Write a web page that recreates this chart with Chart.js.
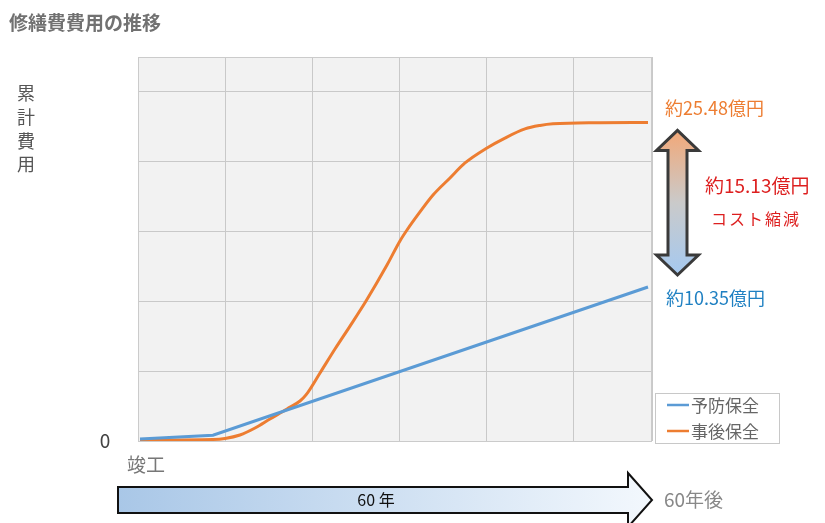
<!DOCTYPE html>
<html><head><meta charset="utf-8">
<script src="https://cdn.jsdelivr.net/npm/chart.js@4.4.1/dist/chart.umd.min.js"></script>
<style>html,body{margin:0;padding:0;background:#fff;}#wrap{width:825px;height:523px;position:relative;}</style>
</head><body><div id="wrap"><canvas id="c" width="825" height="523"></canvas></div>
<script>
const TITLE = '修繕費費用の推移';
const Y_TITLE = ['累', '計', '費', '用'];
const SERIES_NAMES = ['予防保全', '事後保全'];
const SERIES_COLORS = ['#5b9bd5', '#ed7d31'];
const YEARS_PREVENTIVE = [0.23, 8.62, 58.62];
const COST_PREVENTIVE = [0.14, 0.41, 11.0];
const YEARS_CORRECTIVE = [0.23, 8.62, 10.0, 11.72, 13.45, 15.17, 17.13, 18.62, 19.31, 20.92, 22.64, 24.37, 26.21, 28.62, 30.11, 30.92, 32.41, 33.91, 35.86, 37.59, 40.11, 42.18, 44.48, 46.21, 47.7, 53.1, 58.62];
const COST_CORRECTIVE = [0.07, 0.11, 0.18, 0.43, 0.93, 1.57, 2.29, 2.86, 3.29, 4.86, 6.57, 8.21, 10.0, 12.57, 14.29, 15.07, 16.36, 17.57, 18.79, 19.86, 20.93, 21.64, 22.29, 22.54, 22.66, 22.74, 22.76];
const X_RANGE = [0, 59.08];
const Y_RANGE = [0, 27.43];
const X_STEP = 10;
const Y_STEP = 5;
const Y_ZERO_LABEL = '0';
const LABEL_CORRECTIVE_END = '約25.48億円';
const LABEL_PREVENTIVE_END = '約10.35億円';
const LABEL_SAVING = '約15.13億円';
const LABEL_SAVING_SUB = 'コスト縮減';
const LABEL_START = '竣工';
const LABEL_SPAN = '60 年';
const LABEL_END = '60年後';

const FONT = '"Noto Sans CJK JP", "Noto Sans", sans-serif';

function toPoints(xs, ys) { return xs.map((x, i) => ({ x: x, y: ys[i] })); }

const decor = {
  id: 'decor',
  beforeDraw(chart) {
    const { ctx, chartArea: a } = chart;
    ctx.save();
    ctx.fillStyle = '#f2f2f2';
    ctx.fillRect(a.left, a.top, a.right - a.left, a.bottom - a.top);
    ctx.restore();
  },
  beforeDatasetsDraw(chart) {
    const { ctx, chartArea: a } = chart;
    ctx.save();
    ctx.strokeStyle = '#cbcbcb';
    ctx.lineWidth = 1;
    ctx.strokeRect(a.left + 0.5, a.top + 0.5, a.right - a.left - 1, a.bottom - a.top);
    ctx.restore();
  },
  afterDraw(chart) {
    const { ctx, chartArea: a, scales } = chart;
    const ys = scales.y;
    ctx.save();
    // title
    ctx.textBaseline = 'middle';
    ctx.textAlign = 'left';
    ctx.fillStyle = '#717171';
    ctx.font = 'bold 19px ' + FONT;
    ctx.fillText(TITLE, 9, 23);
    // y title (vertical stacked)
    ctx.fillStyle = '#555';
    ctx.font = '18px ' + FONT;
    ctx.textAlign = 'center';
    const yt = [93, 117, 141, 164];
    Y_TITLE.forEach((ch, i) => ctx.fillText(ch, 26, yt[i]));
    // zero label
    ctx.fillStyle = '#444';
    ctx.font = '19px ' + FONT;
    ctx.fillText(Y_ZERO_LABEL, 105, ys.getPixelForValue(0));
    // start label
    ctx.fillStyle = '#777';
    ctx.font = '19px ' + FONT;
    ctx.textAlign = 'left';
    ctx.fillText(LABEL_START, 127, 465);

    // horizontal arrow
    const L = 118, bt = 487, bb = 513, hb = 628, ht = 473, hbt = 527, tip = a.right, cy = 500;
    const g = ctx.createLinearGradient(L, 0, tip, 0);
    g.addColorStop(0, '#a9c7e7');
    g.addColorStop(1, '#f3f8fd');
    ctx.beginPath();
    ctx.moveTo(L, bt); ctx.lineTo(hb, bt); ctx.lineTo(hb, ht); ctx.lineTo(tip, cy);
    ctx.lineTo(hb, hbt); ctx.lineTo(hb, bb); ctx.lineTo(L, bb); ctx.closePath();
    ctx.fillStyle = g; ctx.fill();
    ctx.strokeStyle = '#111'; ctx.lineWidth = 2; ctx.lineJoin = 'miter'; ctx.stroke();
    ctx.fillStyle = '#111';
    ctx.font = '16px ' + FONT;
    ctx.textAlign = 'center';
    ctx.fillText(LABEL_SPAN, 376, cy);
    ctx.fillStyle = '#888';
    ctx.font = '19px ' + FONT;
    ctx.textAlign = 'left';
    ctx.fillText(LABEL_END, 664, cy);

    // end values
    const yOr = ys.getPixelForValue(COST_CORRECTIVE[COST_CORRECTIVE.length - 1]);
    const yBl = ys.getPixelForValue(COST_PREVENTIVE[COST_PREVENTIVE.length - 1]);
    ctx.font = '18px ' + FONT;
    ctx.fillStyle = '#ed7d31';
    ctx.fillText(LABEL_CORRECTIVE_END, 665, yOr - 14);
    ctx.fillStyle = '#1f80c2';
    ctx.fillText(LABEL_PREVENTIVE_END, 666, yBl + 11);

    // vertical double arrow
    const cx = 677.5, yT = yOr + 8, yB = yBl - 12, hh = 20, hw = 21, bw = 9.5;
    const vg = ctx.createLinearGradient(0, yT, 0, yB);
    vg.addColorStop(0, '#f2a878');
    vg.addColorStop(0.5, '#cacaca');
    vg.addColorStop(1, '#a5c9f0');
    ctx.beginPath();
    ctx.moveTo(cx, yT);
    ctx.lineTo(cx + hw, yT + hh);
    ctx.lineTo(cx + bw, yT + hh);
    ctx.lineTo(cx + bw, yB - hh);
    ctx.lineTo(cx + hw, yB - hh);
    ctx.lineTo(cx, yB);
    ctx.lineTo(cx - hw, yB - hh);
    ctx.lineTo(cx - bw, yB - hh);
    ctx.lineTo(cx - bw, yT + hh);
    ctx.lineTo(cx - hw, yT + hh);
    ctx.closePath();
    ctx.fillStyle = vg; ctx.fill();
    ctx.strokeStyle = '#3a3a3a'; ctx.lineWidth = 3; ctx.stroke();

    ctx.fillStyle = '#dd1f1f';
    ctx.font = '19px ' + FONT;
    ctx.fillText(LABEL_SAVING, 705, 186);
    ctx.font = '16px ' + FONT;
    if ('letterSpacing' in ctx) ctx.letterSpacing = '2px';
    ctx.fillText(LABEL_SAVING_SUB, 711, 219);
    if ('letterSpacing' in ctx) ctx.letterSpacing = '0px';

    // legend
    ctx.fillStyle = '#fff';
    ctx.fillRect(655.5, 393.5, 124, 50);
    ctx.strokeStyle = '#c8c8c8'; ctx.lineWidth = 1;
    ctx.strokeRect(655.5, 393.5, 124, 50);
    const ly = [405, 431];
    ctx.font = '17px ' + FONT;
    SERIES_NAMES.forEach((n, i) => {
      ctx.strokeStyle = SERIES_COLORS[i]; ctx.lineWidth = 2.5;
      ctx.beginPath(); ctx.moveTo(667, ly[i]); ctx.lineTo(689, ly[i]); ctx.stroke();
      ctx.fillStyle = '#666';
      ctx.fillText(n, 691, ly[i] + 1);
    });
    ctx.restore();
  }
};

new Chart(document.getElementById('c'), {
  type: 'line',
  data: {
    datasets: [
      { label: SERIES_NAMES[0], data: toPoints(YEARS_PREVENTIVE, COST_PREVENTIVE), borderColor: SERIES_COLORS[0], borderWidth: 3, pointRadius: 0, tension: 0, fill: false },
      { label: SERIES_NAMES[1], data: toPoints(YEARS_CORRECTIVE, COST_CORRECTIVE), borderColor: SERIES_COLORS[1], borderWidth: 3, pointRadius: 0, cubicInterpolationMode: 'monotone', fill: false, borderJoinStyle: 'round' }
    ]
  },
  options: {
    responsive: false,
    animation: false,
    layout: { padding: { left: 138, right: 173, top: 57, bottom: 82 } },
    plugins: { legend: { display: false }, tooltip: { enabled: false }, title: { display: false } },
    scales: {
      x: { type: 'linear', min: X_RANGE[0], max: X_RANGE[1], ticks: { display: false, stepSize: X_STEP }, grid: { color: '#c9c9c9', drawTicks: false }, border: { display: false } },
      y: { type: 'linear', min: Y_RANGE[0], max: Y_RANGE[1], ticks: { display: false, stepSize: Y_STEP }, grid: { color: '#c9c9c9', drawTicks: false }, border: { display: false } }
    }
  },
  plugins: [decor]
});
</script>
</body></html>
